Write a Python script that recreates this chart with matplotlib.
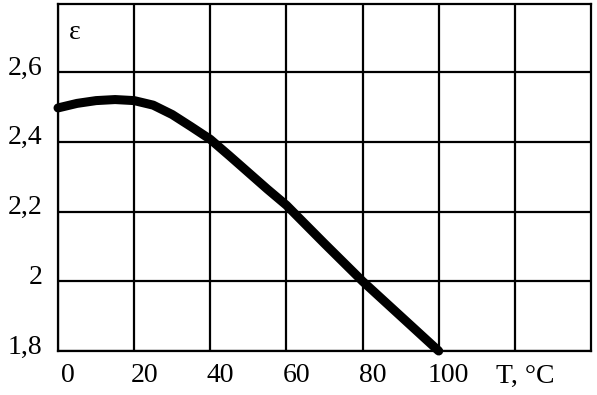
import matplotlib
matplotlib.use("Agg")
import matplotlib.pyplot as plt
import matplotlib.transforms as mtransforms

# Data
T_values = [0, 5, 10, 15, 20, 25, 30, 35, 40, 45, 50, 55, 60, 70, 80, 90, 100]
eps_values = [2.497, 2.510, 2.518, 2.521, 2.518, 2.505, 2.478, 2.443, 2.407, 2.360, 2.312,
              2.264, 2.218, 2.108, 2.000, 1.900, 1.800]
x_ticks = [0, 20, 40, 60, 80, 100, 120]
x_tick_labels = ["0", "20", "40", "60", "80", "100", "T, °C"]
y_ticks = [1.8, 2.0, 2.2, 2.4, 2.6]
y_tick_labels = ["1,8", "2", "2,2", "2,4", "2,6"]

plt.rcParams['font.family'] = ['Liberation Serif', 'DejaVu Serif']

fig = plt.figure(figsize=(5.97, 3.95), dpi=100)
ax = fig.add_axes([58/597, 1 - 351/395, (591-58)/597, (351-4)/395])

ax.plot(T_values, eps_values, color='black', lw=6.5, solid_capstyle='round',
        solid_joinstyle='round', zorder=3, clip_on=False)

ax.set_xlim(0, 140)
ax.set_ylim(1.8, 2.795)
ax.set_xticks(x_ticks)
ax.set_xticklabels(x_tick_labels, fontsize=20)
ax.set_yticks(y_ticks)
ax.set_yticklabels(y_tick_labels, fontsize=20)
ax.grid(True, color='black', lw=1.6)
ax.tick_params(length=0, pad=9)
ax.tick_params(axis='y', pad=11)
for s in ax.spines.values():
    s.set_linewidth(1.6)

dx = mtransforms.ScaledTranslation(10/100, 0, fig.dpi_scale_trans)
for lab in ax.get_xticklabels():
    lab.set_transform(lab.get_transform() + dx)
dy = mtransforms.ScaledTranslation(0, 7/100, fig.dpi_scale_trans)
for lab in ax.get_yticklabels():
    lab.set_transform(lab.get_transform() + dy)

ax.text(4.5, 2.714, "ε", fontsize=20, ha='center', va='center')

fig.savefig("out.png", dpi=100)
